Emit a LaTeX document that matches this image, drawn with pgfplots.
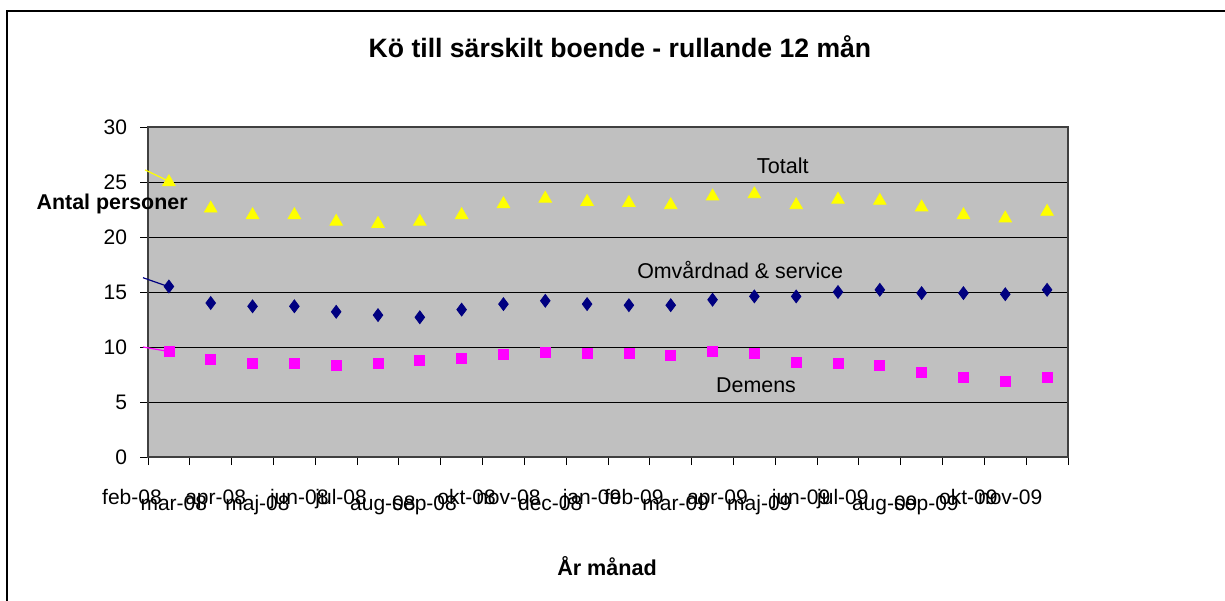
\documentclass[border=0pt]{standalone}
\usepackage{pgfplots}
\pgfplotsset{compat=1.18}
\usepackage{fontspec}
\setmainfont{Liberation Sans}
\definecolor{plotgray}{RGB}{192,192,192}
\definecolor{navyblue}{RGB}{0,0,128}
\definecolor{magentaX}{RGB}{255,0,255}
\definecolor{yellowX}{RGB}{255,255,0}
\definecolor{axisgray}{RGB}{64,64,64}
\newcommand{\dn}[1]{\raisebox{-3pt}{#1}}
\begin{document}
\begin{tikzpicture}
\useasboundingbox (0,0) rectangle (612.5pt,300pt);
\draw[line width=0.6pt] (3.5pt,-1pt) -- (3.5pt,294.5pt) -- (613pt,294.5pt);
\begin{axis}[
  at={(74pt,71.5pt)}, anchor=south west,
  scale only axis, width=460pt, height=165pt,
  xmin=-0.5, xmax=21.5, ymin=0, ymax=30,
  axis background/.style={fill=plotgray},
  axis line style={axisgray, line width=0.8pt},
  ytick={0,5,...,30},
  ymajorgrids, major grid style={black, line width=0.5pt},
  xtick={-0.5,0.5,...,21.5},
  xticklabels={feb-08,\dn{mar-08},apr-08,\dn{maj-08},jun-08,jul-08,\dn{aug-08},\dn{sep-08},okt-08,nov-08,\dn{dec-08},jan-09,feb-09,\dn{mar-09},apr-09,\dn{maj-09},jun-09,jul-09,\dn{aug-09},\dn{sep-09},okt-09,nov-09,{}},
  tick align=outside, major tick length=4pt,
  tick style={black, line width=0.5pt},
  xtick pos=bottom, ytick pos=left,
  /pgf/number format/assume math mode=true,
  tick label style={font=\fontsize{10.5}{12}\selectfont},
  xticklabel style={anchor=north, text height=8pt, text depth=2pt, xshift=-8pt, yshift=-11.5pt, inner sep=0pt},
  yticklabel style={anchor=east, xshift=-3pt},
  title={Kö till särskilt boende - rullande 12 mån},
  every axis title shift=0pt,
  title style={at={(rel axis cs:0.513,1.242)}, anchor=center, yshift=0pt, font=\bfseries\fontsize{13.3}{15}\selectfont},
  xlabel={År månad},
  xlabel style={at={(rel axis cs:0.499,-0.330)}, anchor=center, font=\bfseries\fontsize{10.8}{12}\selectfont},
  ylabel={Antal personer},
  ylabel style={at={(rel axis cs:-0.039,0.767)}, anchor=center, rotate=-90, font=\bfseries\fontsize{10.7}{12}\selectfont},
  clip=false,
]
\addplot[only marks, mark=triangle*, mark size=3.6pt, mark options={fill=yellowX, draw=yellowX}] coordinates {
(0,25.0) (1,22.6) (2,22.0) (3,22.0) (4,21.4) (5,21.2) (6,21.4) (7,22.0) (8,23.0) (9,23.5) (10,23.2)
(11,23.1) (12,22.9) (13,23.7) (14,23.9) (15,22.9) (16,23.4) (17,23.3) (18,22.7) (19,22.0) (20,21.7) (21,22.3)};
\addplot[only marks, mark=diamond*, mark size=3.2pt, mark options={fill=navyblue, draw=navyblue}] coordinates {
(0,15.5) (1,14.0) (2,13.7) (3,13.7) (4,13.2) (5,12.9) (6,12.7) (7,13.4) (8,13.9) (9,14.2) (10,13.9)
(11,13.8) (12,13.8) (13,14.3) (14,14.6) (15,14.6) (16,15.0) (17,15.2) (18,14.9) (19,14.9) (20,14.8) (21,15.2)};
\addplot[only marks, mark=square*, mark size=2.5pt, mark options={fill=magentaX, draw=magentaX}] coordinates {
(0,9.6) (1,8.9) (2,8.5) (3,8.5) (4,8.3) (5,8.5) (6,8.8) (7,9.0) (8,9.3) (9,9.5) (10,9.4)
(11,9.4) (12,9.2) (13,9.6) (14,9.4) (15,8.6) (16,8.5) (17,8.3) (18,7.7) (19,7.2) (20,6.9) (21,7.2)};
\draw[yellowX, line width=0.6pt] (axis cs:-0.57,26.1) -- (axis cs:-0.02,25.1);
\draw[navyblue, line width=0.6pt] (axis cs:-0.62,16.3) -- (axis cs:-0.02,15.5);
\draw[magentaX, line width=0.6pt] (axis cs:-0.62,10.0) -- (axis cs:-0.02,9.6);
\node[font=\fontsize{10.8}{12}\selectfont] at (axis cs:14.68,26.45) {Totalt};
\node[font=\fontsize{10.7}{12}\selectfont] at (axis cs:13.66,17.0) {Omvårdnad \& service};
\node[font=\fontsize{10.7}{12}\selectfont] at (axis cs:14.04,6.55) {Demens};
\end{axis}
\end{tikzpicture}
\end{document}
